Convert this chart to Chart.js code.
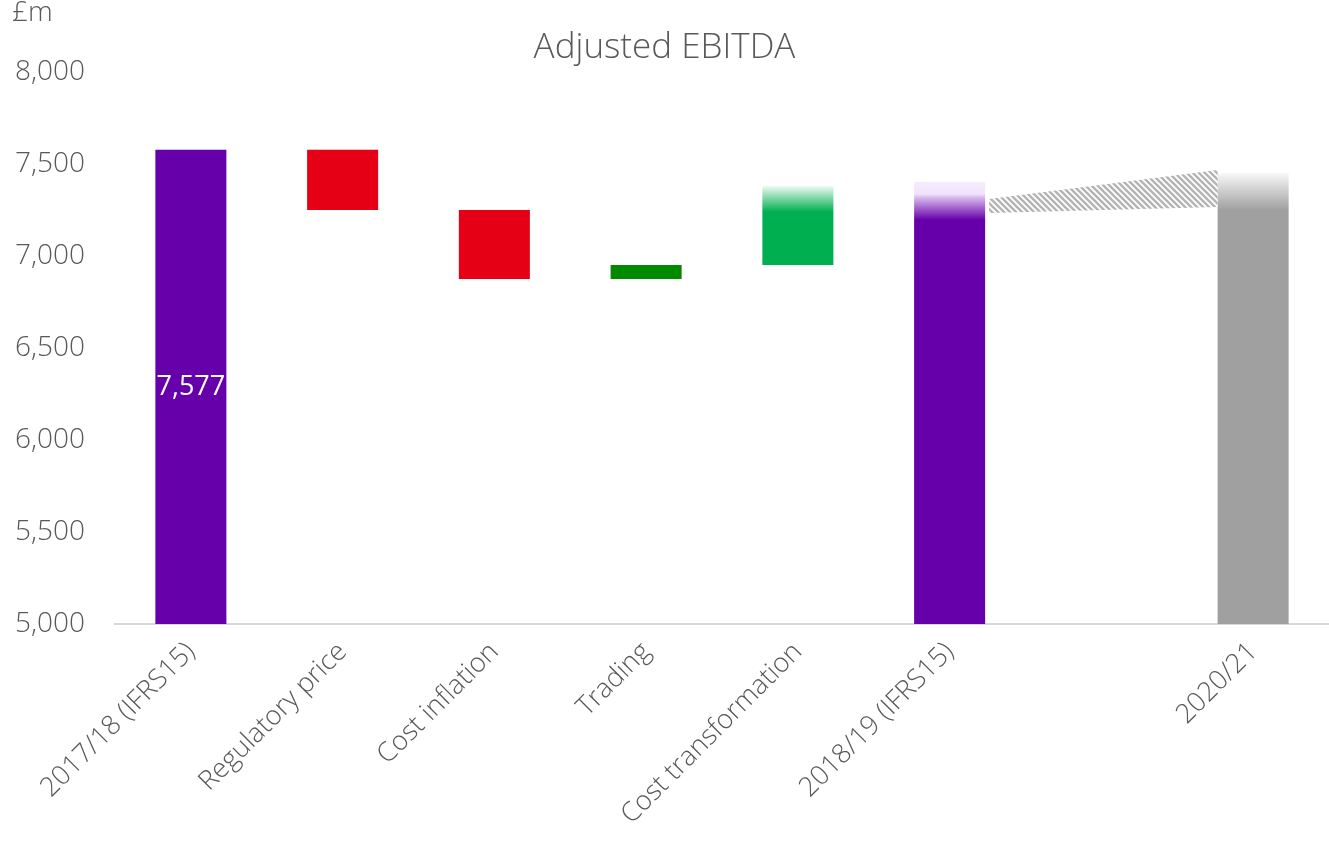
<!DOCTYPE html>
<html>
<head>
<meta charset="utf-8">
<script src="https://cdn.jsdelivr.net/npm/chart.js@4"></script>
<style>
  html, body { margin: 0; padding: 0; background: #fff; }
  #wrap { width: 1329px; height: 849px; position: relative; }
</style>
</head>
<body>
<div id="wrap"><canvas id="myChart"></canvas></div>
<script>
// Chart data (values in £m)
const categories = ['2017/18 (IFRS15)', 'Regulatory price', 'Cost inflation', 'Trading', 'Cost transformation', '2018/19 (IFRS15)', '', '2020/21'];
const barLow = [5000, 7250, 6875, 6875, 6951, 5000, null, 5000];
const barHigh = [7577, 7577, 7250, 6951, 7380, 7402, null, 7451];
const fadeStart = [null, null, null, null, 7240, 7196, null, 7250]; // where the solid part ends and the fade starts
const hatchLow = [7234, 7266];  // lower edge of the outlook band (left, right)
const hatchHigh = [7310, 7467]; // upper edge of the outlook band (left, right)
const valueLabels = ['7,577', null, null, null, null, null, null, null];
const yTicks = [5000, 5500, 6000, 6500, 7000, 7500, 8000];

const solidColors = ['#6600aa', '#e50016', '#e50016', '#008a00', '#00b050', '#6600aa', '#ffffff', '#a0a0a0'];
const paleColors = [null, null, null, null, '#eef9f2', '#f6ecfe', null, '#f8f8f8'];

const textColor = '#595959';
const fontFamily = '"Open Sans", "Noto Sans", sans-serif';

function barFill(ctx) {
    const i = ctx.dataIndex;
    const chart = ctx.chart;
    if (fadeStart[i] == null || !chart.chartArea) return solidColors[i];
    const y = chart.scales.y;
    const top = y.getPixelForValue(barHigh[i]);
    const solid = y.getPixelForValue(fadeStart[i]);
    const g = chart.ctx.createLinearGradient(0, top, 0, solid);
    g.addColorStop(0, paleColors[i]);
    if (i === 5) {
        g.addColorStop(0.32, '#f0e2fb');
        g.addColorStop(0.4, '#d9bcee');
    }
    g.addColorStop(1, solidColors[i]);
    return g;
}

function hatchPattern(ctx) {
    const c = document.createElement('canvas');
    c.width = 6; c.height = 6;
    const p = c.getContext('2d');
    p.fillStyle = '#ffffff';
    p.fillRect(0, 0, 6, 6);
    p.strokeStyle = '#b4b4b4';
    p.lineWidth = 2.4;
    p.beginPath();
    p.moveTo(-3, 3); p.lineTo(3, 9);
    p.moveTo(0, 0); p.lineTo(6, 6);
    p.moveTo(3, -3); p.lineTo(9, 3);
    p.stroke();
    return ctx.createPattern(c, 'repeat');
}

// draws the hatched band between 2018/19 and 2020/21, the value label and the unit
const extrasPlugin = {
    id: 'extras',
    afterDatasetsDraw(chart) {
        const ctx = chart.ctx;
        const y = chart.scales.y;
        const meta = chart.getDatasetMeta(0);
        const left = meta.data[5];
        const right = meta.data[7];
        const x0 = left.x + left.width / 2 + 4;
        const x1 = right.x - right.width / 2;
        ctx.save();
        ctx.fillStyle = hatchPattern(ctx);
        ctx.beginPath();
        ctx.moveTo(x0, y.getPixelForValue(hatchHigh[0]));
        ctx.lineTo(x1, y.getPixelForValue(hatchHigh[1]));
        ctx.lineTo(x1, y.getPixelForValue(hatchLow[1]));
        ctx.lineTo(x0, y.getPixelForValue(hatchLow[0]));
        ctx.closePath();
        ctx.fill();

        ctx.font = '27px ' + fontFamily;
        ctx.fillStyle = '#ffffff';
        ctx.textAlign = 'center';
        ctx.textBaseline = 'middle';
        valueLabels.forEach(function (txt, i) {
            if (!txt) return;
            const bar = meta.data[i];
            ctx.fillText(txt, bar.x, (y.getPixelForValue(barLow[i]) + y.getPixelForValue(barHigh[i])) / 2);
        });

        ctx.font = '300 28px ' + fontFamily;
        ctx.fillStyle = textColor;
        ctx.textAlign = 'left';
        ctx.textBaseline = 'middle';
        ctx.fillText('£m', 12, 13);
        ctx.restore();
    }
};

const ctx = document.getElementById('myChart').getContext('2d');
window.myChart = new Chart(ctx, {
    type: 'bar',
    data: {
        labels: categories,
        datasets: [{
            data: barLow.map((v, i) => (v == null ? null : [v, barHigh[i]])),
            backgroundColor: barFill,
            borderWidth: 0,
            barPercentage: 0.468,
            categoryPercentage: 1
        }]
    },
    options: {
        responsive: true,
        maintainAspectRatio: false,
        animation: false,
        layout: { padding: { top: 0, right: 0, left: 0, bottom: 0 } },
        plugins: {
            legend: { display: false },
            tooltip: { enabled: false },
            title: {
                display: true,
                text: 'Adjusted EBITDA',
                color: textColor,
                font: { family: fontFamily, size: 35, weight: '300' },
                padding: { top: 27, bottom: 3 }
            }
        },
        scales: {
            x: {
                grid: { display: false, drawTicks: false },
                border: { display: true, color: '#d9d9d9', width: 2 },
                ticks: {
                    color: textColor,
                    font: { family: fontFamily, size: 27, weight: '300' },
                    minRotation: 45,
                    maxRotation: 45,
                    autoSkip: false,
                    padding: 12
                },
                afterFit: function (scale) { scale.height = 225; }
            },
            y: {
                min: 5000,
                max: 8000,
                grid: { display: false, drawTicks: false },
                border: { display: false },
                afterBuildTicks: function (scale) { scale.ticks = yTicks.map(v => ({ value: v })); },
                ticks: {
                    color: textColor,
                    font: { family: fontFamily, size: 28, weight: '300' },
                    padding: 30,
                    callback: function (value) { return value.toLocaleString('en-GB'); }
                },
                afterFit: function (scale) { scale.width = 115; }
            }
        }
    },
    plugins: [extrasPlugin]
});
</script>
</body>
</html>
